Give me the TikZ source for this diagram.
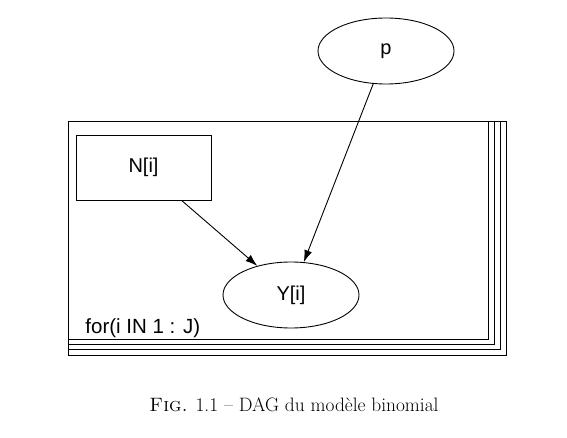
\documentclass[tikz,border=0pt]{standalone}
\usepackage{fontspec}
\newfontfamily\dagfont{Liberation Sans}
\usetikzlibrary{arrows.meta,shapes.geometric}
\tikzset{
  every path/.style={line width=0.9pt},
  stoch/.style={draw,ellipse,minimum width=136pt,minimum height=66pt,inner sep=0,font=\dagfont\fontsize{20}{23}\selectfont},
  const/.style={draw,rectangle,minimum width=135pt,minimum height=65pt,inner sep=0,font=\dagfont\fontsize{20}{23}\selectfont},
  edge/.style={-{Latex[length=12pt,width=8pt]}},
}
\begin{document}
\begin{tikzpicture}[x=1pt,y=-1pt]
      \useasboundingbox (0,0) rectangle (567,438);
      % plate
      \foreach \k in {0,...,3}
        \draw (68,121) rectangle (488+6*\k,339+5.4*\k);
      \node[anchor=base west,inner sep=0,font=\dagfont\fontsize{20.5}{23}\selectfont] (plate) at (85,333) {for(i IN 1 : J)};
      % nodes
      \node[stoch] (p) at (386,51) {p};
      \node[const] (n) at (143.5,167.5) {N[i]};
      \node[stoch] (y) at (291,295) {Y[i]};
      \draw[edge] (n) -- (y);
      \draw[edge] (p) -- (y);
      % caption
      \node[anchor=base,inner sep=0,font=\fontsize{19.4}{22}\selectfont] (cap) at (294,411) {\textsc{Fig.} 1.1 -- DAG du modèle binomial};
    \end{tikzpicture}
\end{document}
